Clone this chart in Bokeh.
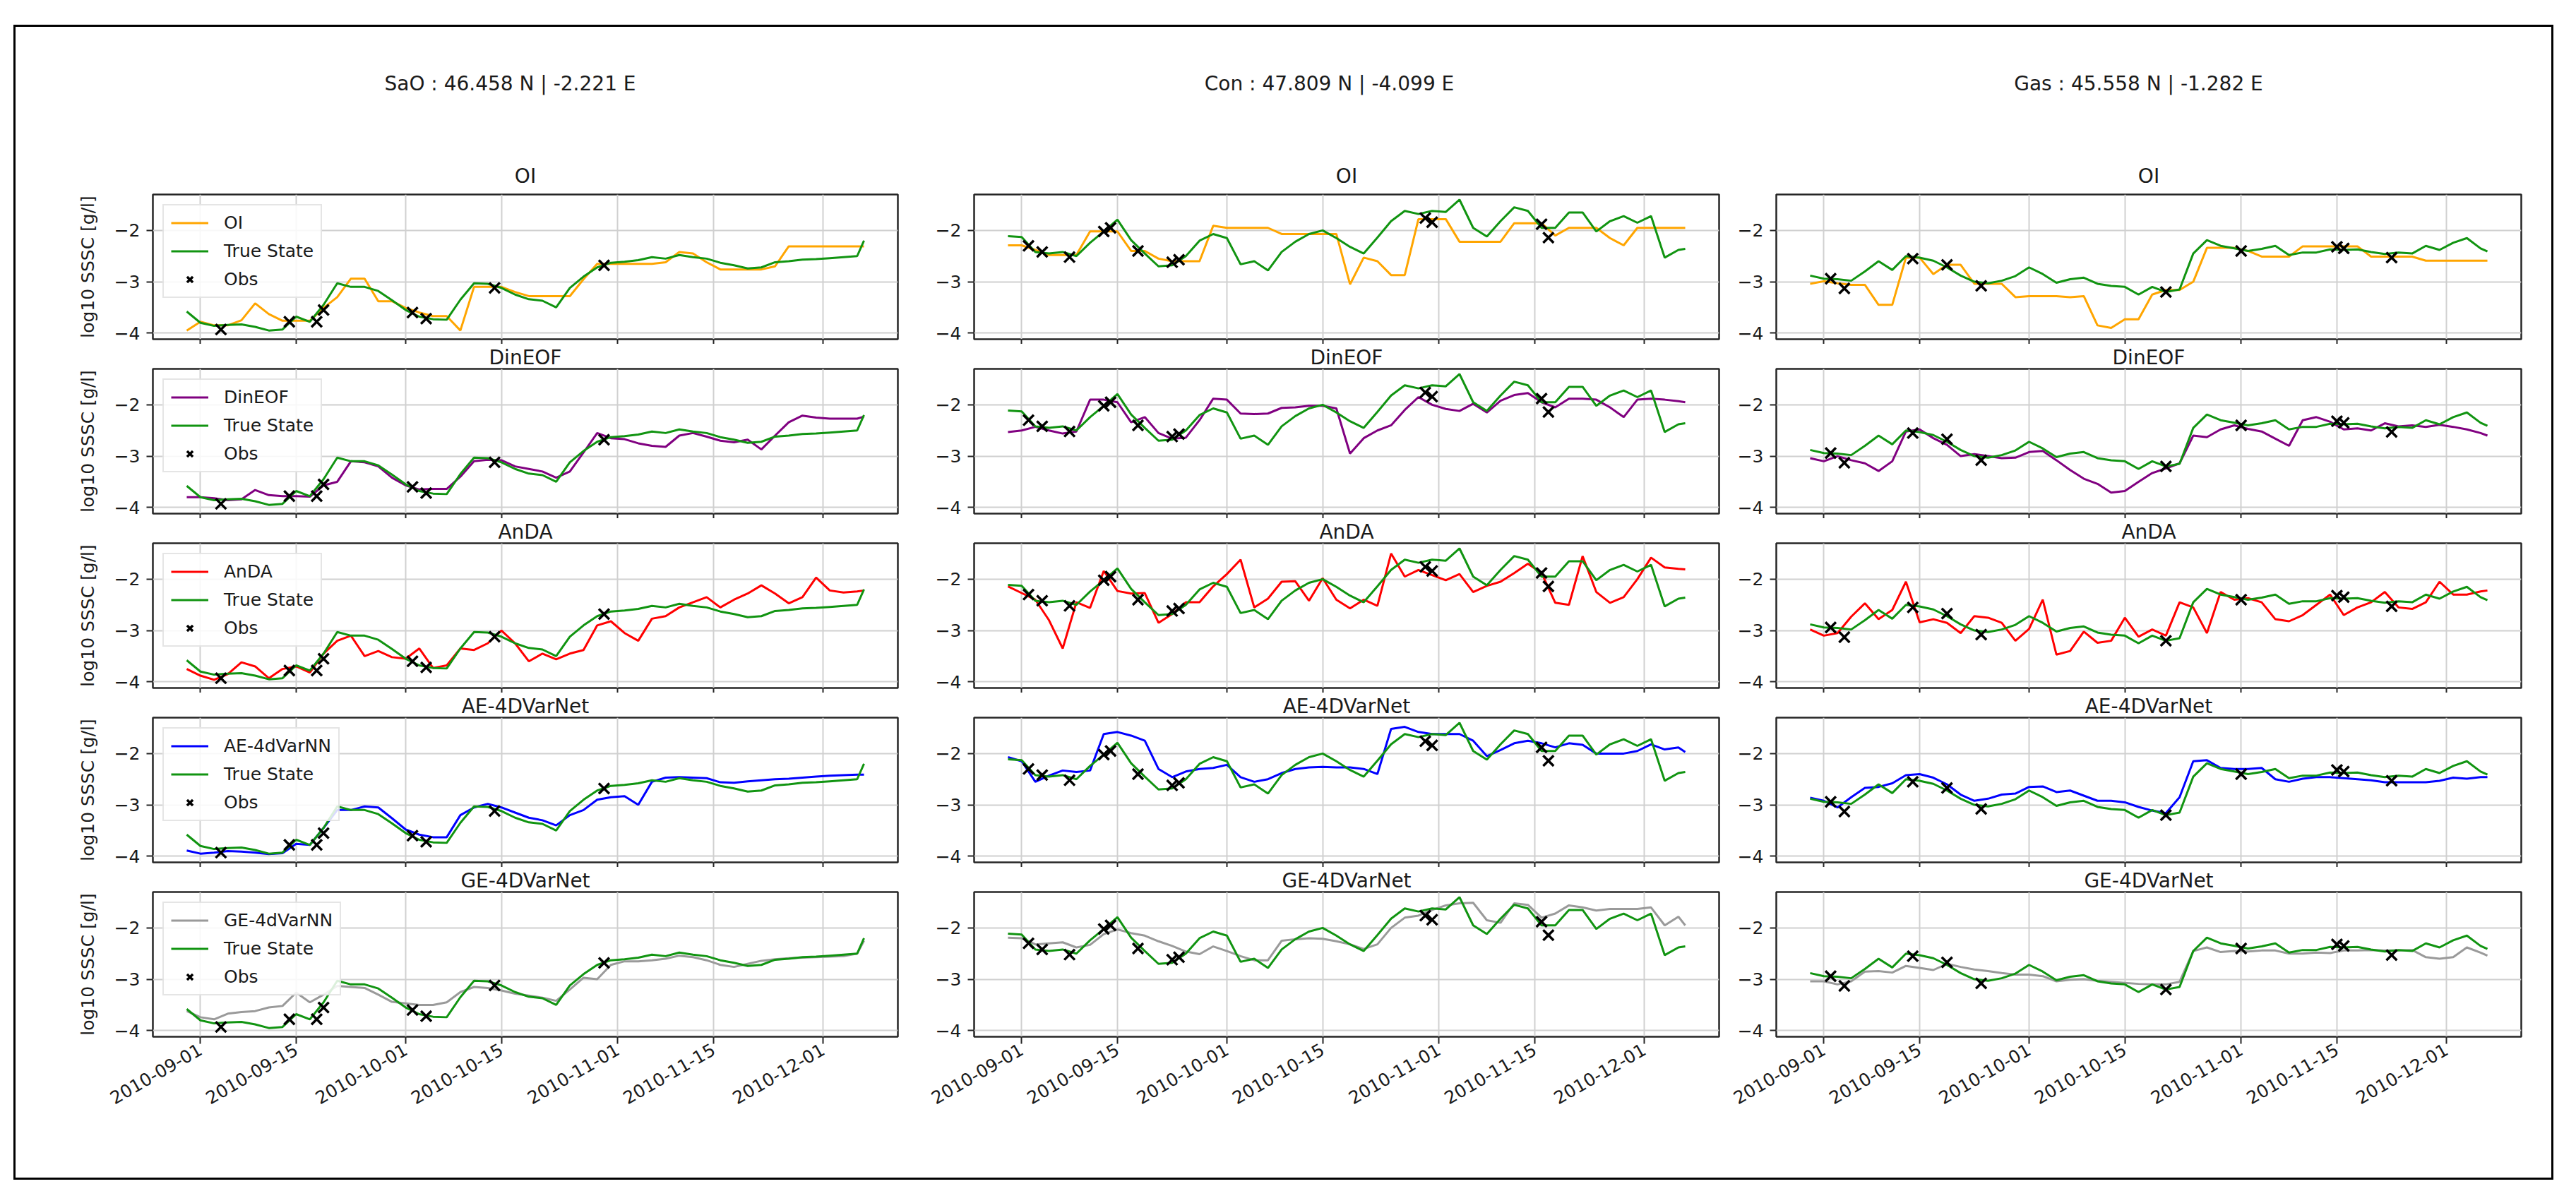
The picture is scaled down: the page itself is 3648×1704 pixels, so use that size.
import math
from datetime import datetime, timedelta

from bokeh.plotting import figure
from bokeh.layouts import row, column
from bokeh.models import (Range1d, FixedTicker, DatetimeTickFormatter, CustomJSTickFormatter,
                          Legend, LegendItem)
from bokeh.embed import file_html
from bokeh.resources import INLINE

# ---------------------------------------------------------------- data
BASE_DATE = datetime(2010, 9, 1)
# sample days, counted from 2010-09-01 (data run 2010-08-30 .. 2010-12-07)
DAYS = list(range(-2, 97, 2)) + [97]

TICK_DATES = ["2010-09-01", "2010-09-15", "2010-10-01", "2010-10-15",
              "2010-11-01", "2010-11-15", "2010-12-01"]

STATION_TITLES = ["SaO : 46.458 N | -2.221 E",
                  "Con : 47.809 N | -4.099 E",
                  "Gas : 45.558 N | -1.282 E"]
METHOD_TITLES = ["OI", "DinEOF", "AnDA", "AE-4DVarNet", "GE-4DVarNet"]
LEGEND_LABELS = ["OI", "DinEOF", "AnDA", "AE-4dVarNN", "GE-4dVarNN"]

# ---- SaO
SAO_TRUE = [-3.58, -3.80, -3.86, -3.84, -3.83, -3.88, -3.95, -3.93, -3.68, -3.78,
            -3.45, -3.03, -3.10, -3.10, -3.18, -3.36, -3.55, -3.68, -3.73, -3.74,
            -3.35, -3.03, -3.04, -3.12, -3.25, -3.34, -3.37, -3.50, -3.12, -2.90,
            -2.72, -2.63, -2.61, -2.58, -2.52, -2.55, -2.48, -2.52, -2.55, -2.63,
            -2.68, -2.74, -2.72, -2.62, -2.60, -2.57, -2.56, -2.54, -2.52, -2.50,
            -2.20]
SAO_OI = [-3.95, -3.78, -3.85, -3.85, -3.75, -3.42, -3.63, -3.76, -3.76, -3.76,
          -3.51, -3.30, -2.94, -2.94, -3.38, -3.38, -3.51, -3.60, -3.67, -3.67,
          -3.95, -3.10, -3.10, -3.10, -3.20, -3.28, -3.28, -3.28, -3.28, -2.95,
          -2.65, -2.65, -2.65, -2.65, -2.65, -2.62, -2.42, -2.45, -2.62, -2.76,
          -2.76, -2.76, -2.76, -2.70, -2.31, -2.31, -2.31, -2.31, -2.31, -2.31,
          -2.31]
SAO_DINEOF = [-3.80, -3.80, -3.82, -3.86, -3.84, -3.66, -3.76, -3.78, -3.78, -3.79,
              -3.57, -3.50, -3.10, -3.12, -3.20, -3.42, -3.57, -3.65, -3.64, -3.64,
              -3.40, -3.10, -3.07, -3.08, -3.20, -3.25, -3.30, -3.42, -3.30, -2.93,
              -2.55, -2.65, -2.67, -2.75, -2.80, -2.82, -2.60, -2.55, -2.62, -2.70,
              -2.73, -2.68, -2.87, -2.60, -2.34, -2.21, -2.25, -2.27, -2.27, -2.27,
              -2.23]
SAO_ANDA = [-3.75, -3.88, -3.96, -3.85, -3.62, -3.70, -3.93, -3.75, -3.70, -3.82,
            -3.45, -3.20, -3.10, -3.50, -3.40, -3.52, -3.55, -3.35, -3.73, -3.68,
            -3.35, -3.38, -3.25, -3.00, -3.25, -3.60, -3.45, -3.56, -3.45, -3.38,
            -2.90, -2.82, -3.05, -3.20, -2.77, -2.72, -2.55, -2.45, -2.35, -2.55,
            -2.40, -2.28, -2.12, -2.28, -2.47, -2.35, -1.97, -2.22, -2.26, -2.24,
            -2.22]
SAO_AE = [-3.89, -3.95, -3.93, -3.90, -3.91, -3.93, -3.96, -3.94, -3.76, -3.78,
          -3.45, -3.10, -3.10, -3.03, -3.05, -3.26, -3.48, -3.58, -3.63, -3.63,
          -3.20, -3.05, -2.98, -3.05, -3.15, -3.25, -3.30, -3.40, -3.20, -3.10,
          -2.90, -2.85, -2.83, -3.00, -2.55, -2.47, -2.46, -2.47, -2.48, -2.56,
          -2.57, -2.54, -2.52, -2.50, -2.49, -2.47, -2.45, -2.43, -2.42, -2.41,
          -2.41]
SAO_GE = [-3.62, -3.74, -3.78, -3.67, -3.64, -3.62, -3.55, -3.52, -3.26, -3.45,
          -3.30, -3.13, -3.15, -3.17, -3.30, -3.44, -3.47, -3.50, -3.50, -3.45,
          -3.25, -3.15, -3.17, -3.22, -3.28, -3.32, -3.36, -3.42, -3.20, -2.97,
          -3.00, -2.72, -2.65, -2.65, -2.63, -2.60, -2.54, -2.57, -2.63, -2.72,
          -2.76, -2.70, -2.64, -2.61, -2.59, -2.58, -2.57, -2.56, -2.55, -2.50,
          -2.25]
SAO_OBS_DAYS = [3, 13, 17, 18, 31, 33, 43, 59]
SAO_OBS_VALUES = [-3.93, -3.78, -3.78, -3.55, -3.60, -3.72, -3.12, -2.68]

# ---- Con
CON_TRUE = [-2.11, -2.13, -2.42, -2.45, -2.42, -2.50, -2.24, -2.02, -1.79, -2.19,
            -2.45, -2.70, -2.68, -2.50, -2.20, -2.07, -2.15, -2.66, -2.60, -2.78,
            -2.42, -2.22, -2.07, -2.00, -2.15, -2.32, -2.45, -2.14, -1.82, -1.62,
            -1.68, -1.62, -1.64, -1.40, -1.95, -2.12, -1.82, -1.55, -1.62, -1.95,
            -1.95, -1.65, -1.65, -2.02, -1.82, -1.72, -1.85, -1.72, -2.53, -2.38,
            -2.36]
CON_OI = [-2.29, -2.29, -2.38, -2.48, -2.48, -2.48, -2.02, -2.02, -2.02, -2.40,
          -2.40, -2.55, -2.60, -2.60, -2.60, -1.91, -1.95, -1.95, -1.95, -1.95,
          -2.07, -2.07, -2.07, -2.07, -2.07, -3.05, -2.53, -2.60, -2.87, -2.87,
          -1.78, -1.78, -1.78, -2.22, -2.22, -2.22, -2.22, -1.86, -1.86, -1.86,
          -2.10, -1.95, -1.95, -1.95, -2.15, -2.29, -1.95, -1.95, -1.95, -1.95,
          -1.95]
CON_DINEOF = [-2.53, -2.50, -2.43, -2.50, -2.56, -2.52, -1.90, -1.90, -1.95, -2.34,
              -2.24, -2.55, -2.66, -2.64, -2.30, -1.88, -1.90, -2.17, -2.18, -2.17,
              -2.06, -2.05, -2.02, -2.02, -2.07, -2.95, -2.65, -2.50, -2.40, -2.10,
              -1.85, -2.00, -2.08, -2.12, -1.98, -2.15, -1.92, -1.81, -1.77, -1.95,
              -2.05, -1.88, -1.88, -1.90, -2.05, -2.24, -1.90, -1.88, -1.90, -1.93,
              -1.95]
CON_ANDA = [-2.14, -2.27, -2.40, -2.80, -3.35, -2.45, -2.56, -1.84, -2.23, -2.28,
            -2.27, -2.85, -2.68, -2.45, -2.45, -2.14, -1.90, -1.62, -2.55, -2.38,
            -2.05, -2.04, -2.42, -1.98, -2.40, -2.57, -2.40, -2.52, -1.50, -1.95,
            -1.82, -1.92, -2.02, -1.90, -2.25, -2.13, -2.05, -1.88, -1.70, -1.88,
            -2.46, -2.50, -1.55, -2.25, -2.46, -2.35, -2.00, -1.58, -1.77, -1.80,
            -1.81]
CON_AE = [-2.07, -2.15, -2.55, -2.43, -2.33, -2.36, -2.33, -1.62, -1.58, -1.65,
          -1.75, -2.30, -2.46, -2.35, -2.30, -2.28, -2.22, -2.46, -2.55, -2.50,
          -2.38, -2.30, -2.27, -2.26, -2.27, -2.27, -2.30, -2.40, -1.52, -1.48,
          -1.58, -1.62, -1.62, -1.62, -1.75, -2.05, -1.93, -1.80, -1.75, -1.80,
          -1.88, -1.80, -1.83, -2.00, -2.00, -2.00, -1.95, -1.82, -1.92, -1.88,
          -1.97]
CON_GE = [-2.19, -2.20, -2.32, -2.30, -2.28, -2.38, -2.33, -2.12, -2.03, -2.10,
          -2.15, -2.26, -2.35, -2.46, -2.51, -2.36, -2.45, -2.55, -2.63, -2.63,
          -2.25, -2.22, -2.20, -2.21, -2.26, -2.32, -2.41, -2.32, -2.00, -1.80,
          -1.76, -1.65, -1.56, -1.52, -1.51, -1.85, -1.90, -1.52, -1.55, -1.80,
          -1.72, -1.56, -1.60, -1.66, -1.63, -1.63, -1.63, -1.60, -1.95, -1.78,
          -1.95]
CON_OBS_DAYS = [1, 3, 7, 12, 13, 17, 22, 23, 59, 60, 76, 77]
CON_OBS_VALUES = [-2.30, -2.42, -2.52, -2.02, -1.95, -2.40, -2.62, -2.57,
                  -1.76, -1.84, -1.88, -2.14]

# ---- Gas
GAS_TRUE = [-2.88, -2.94, -2.95, -2.98, -2.80, -2.60, -2.77, -2.50, -2.53, -2.59,
            -2.72, -2.88, -3.00, -3.03, -2.98, -2.89, -2.72, -2.85, -3.02, -2.95,
            -2.92, -3.04, -3.08, -3.10, -3.25, -3.10, -3.20, -3.15, -2.45, -2.19,
            -2.30, -2.35, -2.40, -2.36, -2.30, -2.48, -2.43, -2.43, -2.37, -2.38,
            -2.37, -2.42, -2.46, -2.43, -2.45, -2.30, -2.38, -2.24, -2.15, -2.35,
            -2.41]
GAS_OI = [-3.04, -2.99, -3.03, -3.06, -3.06, -3.45, -3.45, -2.53, -2.53, -2.85,
          -2.67, -2.67, -3.04, -3.04, -3.04, -3.30, -3.28, -3.28, -3.28, -3.30,
          -3.28, -3.85, -3.90, -3.73, -3.73, -3.25, -3.16, -3.16, -3.00, -2.34,
          -2.34, -2.34, -2.40, -2.51, -2.51, -2.51, -2.31, -2.31, -2.31, -2.31,
          -2.31, -2.51, -2.51, -2.51, -2.51, -2.59, -2.59, -2.59, -2.59, -2.59,
          -2.59]
GAS_DINEOF = [-3.04, -3.10, -3.00, -3.08, -3.14, -3.29, -3.10, -2.52, -2.48, -2.65,
              -2.78, -3.00, -2.96, -3.00, -3.04, -3.03, -2.92, -2.90, -3.08, -3.27,
              -3.44, -3.54, -3.71, -3.68, -3.50, -3.33, -3.24, -3.14, -2.60, -2.63,
              -2.48, -2.40, -2.47, -2.52, -2.66, -2.80, -2.30, -2.24, -2.33, -2.48,
              -2.46, -2.50, -2.36, -2.42, -2.40, -2.43, -2.39, -2.43, -2.48, -2.55,
              -2.60]
GAS_ANDA = [-2.98, -3.10, -3.05, -2.73, -2.47, -2.78, -2.60, -2.05, -2.84, -2.78,
            -2.85, -3.05, -2.72, -2.75, -2.85, -3.20, -2.97, -2.40, -3.47, -3.40,
            -3.02, -3.24, -3.20, -2.75, -3.12, -2.98, -3.10, -2.45, -2.55, -3.05,
            -2.25, -2.40, -2.37, -2.45, -2.78, -2.82, -2.70, -2.50, -2.30, -2.70,
            -2.55, -2.45, -2.25, -2.55, -2.58, -2.45, -2.05, -2.30, -2.30, -2.24,
            -2.22]
GAS_AE = [-2.86, -2.92, -3.05, -2.85, -2.67, -2.65, -2.58, -2.42, -2.40, -2.47,
          -2.60, -2.80, -2.92, -2.88, -2.80, -2.78, -2.65, -2.64, -2.75, -2.72,
          -2.82, -2.92, -2.92, -2.95, -3.04, -3.11, -3.16, -2.85, -2.15, -2.13,
          -2.28, -2.30, -2.30, -2.28, -2.50, -2.55, -2.49, -2.46, -2.46, -2.48,
          -2.50, -2.52, -2.56, -2.56, -2.56, -2.56, -2.53, -2.47, -2.49, -2.46,
          -2.46]
GAS_GE = [-3.04, -3.04, -3.10, -3.04, -2.85, -2.84, -2.87, -2.74, -2.78, -2.82,
          -2.70, -2.76, -2.81, -2.84, -2.88, -2.91, -2.91, -2.94, -3.04, -3.01,
          -3.00, -3.03, -3.05, -3.07, -3.09, -3.10, -3.10, -3.05, -2.45, -2.38,
          -2.47, -2.45, -2.46, -2.44, -2.44, -2.50, -2.50, -2.48, -2.49, -2.44,
          -2.44, -2.43, -2.44, -2.44, -2.43, -2.57, -2.60, -2.57, -2.38, -2.48,
          -2.54]
GAS_OBS_DAYS = [1, 3, 13, 18, 23, 50, 61, 75, 76, 83]
GAS_OBS_VALUES = [-2.94, -3.13, -2.55, -2.67, -3.08, -3.20, -2.40, -2.32, -2.35, -2.53]

# ---------------------------------------------------------------- styling
FONT = "DejaVu Sans"
TEXT = "#1a1a1a"
TRUE_COLOR = "#119411"
METHOD_COLORS = ["orange", "purple", "red", "blue", "#9a9a9a"]
GRID_COLOR = "#d0d0d0"
AXIS_COLOR = "#262626"

FRAME_W, FRAME_H = 1055, 205
COL_BORDERS = [(194, 26), (82, 2), (79, 43)]           # left, right per column
HEADER_BORDERS = [(200, 75), (85, 54), (92, 85)]       # header strip, frame width 1000
ROW_TOP = [54, 33, 33, 33, 33]
ROW_BOTTOM = [7, 7, 7, 7, 200]

STATIONS = [
    dict(true=SAO_TRUE, methods=[SAO_OI, SAO_DINEOF, SAO_ANDA, SAO_AE, SAO_GE],
         obs_days=SAO_OBS_DAYS, obs_values=SAO_OBS_VALUES),
    dict(true=CON_TRUE, methods=[CON_OI, CON_DINEOF, CON_ANDA, CON_AE, CON_GE],
         obs_days=CON_OBS_DAYS, obs_values=CON_OBS_VALUES),
    dict(true=GAS_TRUE, methods=[GAS_OI, GAS_DINEOF, GAS_ANDA, GAS_AE, GAS_GE],
         obs_days=GAS_OBS_DAYS, obs_values=GAS_OBS_VALUES),
]

X = [BASE_DATE + timedelta(days=d) for d in DAYS]
EPOCH = datetime(1970, 1, 1)
TICKS_MS = [(datetime.strptime(s, "%Y-%m-%d") - EPOCH).total_seconds() * 1000 for s in TICK_DATES]

x_range = Range1d(start=BASE_DATE - timedelta(days=6.95), end=BASE_DATE + timedelta(days=101.95))
y_range = Range1d(start=-4.12, end=-1.30)

date_fmt = DatetimeTickFormatter(days="%Y-%m-%d", months="%Y-%m-%d", years="%Y-%m-%d",
                                 hours="%Y-%m-%d", hourmin="%Y-%m-%d")
minus_fmt = CustomJSTickFormatter(code="return (tick < 0 ? '\\u2212' : '') + Math.abs(tick).toFixed(0);")


def style_title(t, standoff):
    t.align = "center"
    t.text_font = FONT
    t.text_font_size = "28px"
    t.text_font_style = "normal"
    t.text_color = TEXT
    t.standoff = standoff


def header_fig(c):
    left, right = HEADER_BORDERS[c]
    p = figure(frame_width=1000, frame_height=38, min_border_left=left, min_border_right=right,
               min_border_top=144, min_border_bottom=0, x_axis_location=None, y_axis_location=None,
               toolbar_location=None, output_backend="svg", title=STATION_TITLES[c])
    p.outline_line_color = None
    p.grid.visible = False
    style_title(p.title, 96)
    return p


def panel(r, c):
    st = STATIONS[c]
    left, right = COL_BORDERS[c]
    p = figure(x_axis_type="datetime", x_range=x_range, y_range=y_range,
               frame_width=FRAME_W, frame_height=FRAME_H,
               min_border_left=left, min_border_right=right,
               min_border_top=ROW_TOP[r], min_border_bottom=ROW_BOTTOM[r],
               toolbar_location=None, output_backend="svg", title=METHOD_TITLES[r])
    style_title(p.title, 20 if r == 0 else 0)

    p.background_fill_color = "white"
    p.border_fill_color = "white"
    p.outline_line_color = AXIS_COLOR
    p.outline_line_width = 2.5

    # axes
    if r < 4:
        # tick marks only (no labels) on the upper rows
        p.xaxis.ticker = FixedTicker(ticks=[], minor_ticks=TICKS_MS)
    else:
        p.xaxis.ticker = FixedTicker(ticks=TICKS_MS)
    p.xgrid.ticker = FixedTicker(ticks=TICKS_MS)
    p.xaxis.formatter = date_fmt
    p.yaxis.ticker = FixedTicker(ticks=[-4, -3, -2])
    p.ygrid.ticker = FixedTicker(ticks=[-4, -3, -2])
    p.yaxis.formatter = minus_fmt
    for ax in (p.xaxis, p.yaxis):
        ax.axis_line_color = None
        ax.major_tick_in = 0
        ax.major_tick_line_color = AXIS_COLOR
        ax.major_tick_line_width = 2
        ax.major_label_text_font = FONT
        ax.major_label_text_font_size = "25px"
        ax.major_label_text_color = TEXT
    p.yaxis.minor_tick_line_color = None
    p.yaxis.major_tick_out = 9
    p.yaxis.major_label_standoff = 9
    if r < 4:
        p.xaxis.minor_tick_in = 0
        p.xaxis.minor_tick_out = 7
        p.xaxis.minor_tick_line_color = AXIS_COLOR
        p.xaxis.minor_tick_line_width = 2
        p.xaxis.major_tick_out = 0
        p.xaxis.major_label_standoff = 0
    else:
        p.xaxis.minor_tick_line_color = None
        p.xaxis.major_tick_out = 10
        p.xaxis.major_label_standoff = 6
        p.xaxis.major_label_orientation = math.pi / 6
    if c == 0:
        p.yaxis.axis_label = "log10 SSSC [g/l]"
        p.yaxis.axis_label_text_font = FONT
        p.yaxis.axis_label_text_font_size = "25px"
        p.yaxis.axis_label_text_font_style = "normal"
        p.yaxis.axis_label_text_color = TEXT
        p.yaxis.axis_label_standoff = 20

    p.grid.grid_line_color = GRID_COLOR
    p.grid.grid_line_width = 2

    # data
    r_m = p.line(X, st["methods"][r], line_color=METHOD_COLORS[r], line_width=3)
    r_t = p.line(X, st["true"], line_color=TRUE_COLOR, line_width=3)
    obs_x = [BASE_DATE + timedelta(days=d) for d in st["obs_days"]]
    r_o = p.scatter(obs_x, st["obs_values"], marker="x", size=21,
                    line_color="black", line_width=3.5)

    if c == 0:
        legend = Legend(items=[LegendItem(label=LEGEND_LABELS[r], renderers=[r_m]),
                               LegendItem(label="True State", renderers=[r_t]),
                               LegendItem(label="Obs", renderers=[r_o])],
                        location="top_left", margin=14, padding=10, spacing=11,
                        glyph_width=53, glyph_height=29, label_height=29,
                        label_standoff=22, label_text_font=FONT,
                        label_text_font_size="25px", label_text_color=TEXT,
                        border_line_color="#cccccc", border_line_width=2,
                        background_fill_color="white", background_fill_alpha=0.85)
        p.add_layout(legend)
    return p


rows = [row(*[header_fig(c) for c in range(3)])]
for r in range(5):
    rows.append(row(*[panel(r, c) for c in range(3)]))

layout = column(*rows, margin=(35, 0, 0, 19), styles={"border": "3px solid black"})

open("out.html", "w").write(file_html(layout, INLINE))
